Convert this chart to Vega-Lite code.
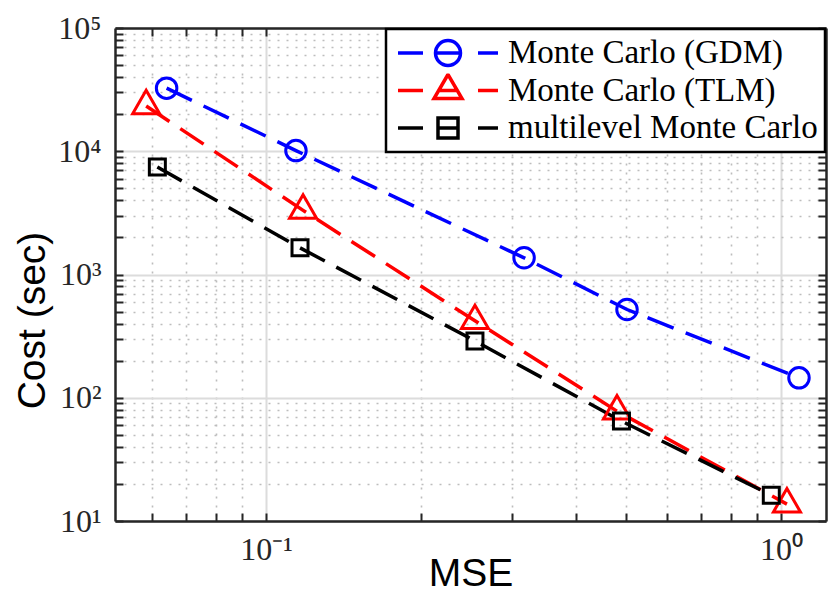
{
  "$schema": "https://vega.github.io/schema/vega-lite/v6.json",
  "width": 711,
  "height": 493,
  "autosize": {"type": "none"},
  "padding": {"left": 115, "top": 28, "right": 2, "bottom": 69},
  "background": "white",
  "config": {
    "view": {"stroke": null},
    "axis": {
      "domainColor": "#262626",
      "domainWidth": 2.5,
      "tickColor": "#262626",
      "tickWidth": 2,
      "tickSize": -8,
      "labelFont": "Liberation Serif",
      "labelFontSize": 32,
      "labelColor": "#262626",
      "titleFont": "Liberation Sans",
      "titleFontSize": 39,
      "titleFontWeight": "normal",
      "titleColor": "#000000",
      "labelOverlap": false,
      "labelFlush": false,
      "labelBound": false
    }
  },
  "data": {
    "values": [
      {"series": "Monte Carlo (GDM)", "mse": 0.0641, "cost": 32500},
      {"series": "Monte Carlo (GDM)", "mse": 0.1143, "cost": 10120},
      {"series": "Monte Carlo (GDM)", "mse": 0.317, "cost": 1366},
      {"series": "Monte Carlo (GDM)", "mse": 0.5023, "cost": 520},
      {"series": "Monte Carlo (GDM)", "mse": 1.0838, "cost": 145},
      {"series": "Monte Carlo (TLM)", "mse": 0.0585, "cost": 23320},
      {"series": "Monte Carlo (TLM)", "mse": 0.118, "cost": 3315},
      {"series": "Monte Carlo (TLM)", "mse": 0.2545, "cost": 421},
      {"series": "Monte Carlo (TLM)", "mse": 0.4803, "cost": 77.8},
      {"series": "Monte Carlo (TLM)", "mse": 1.027, "cost": 13.7},
      {"series": "multilevel Monte Carlo", "mse": 0.0615, "cost": 7437},
      {"series": "multilevel Monte Carlo", "mse": 0.1164, "cost": 1646},
      {"series": "multilevel Monte Carlo", "mse": 0.2545, "cost": 289},
      {"series": "multilevel Monte Carlo", "mse": 0.49, "cost": 64.7},
      {"series": "multilevel Monte Carlo", "mse": 0.9576, "cost": 16.2}
    ]
  },
  "resolve": {"axis": {"x": "independent", "y": "independent"}},
  "layer": [
    {
      "mark": {"type": "line", "strokeWidth": 3.5, "strokeDash": [28, 13]},
      "encoding": {
        "x": {
          "field": "mse", "type": "quantitative",
          "scale": {"type": "log", "domain": [0.05089, 1.223], "nice": false},
          "axis": {
            "orient": "bottom",
            "title": "MSE",
            "titleBaseline": "alphabetic",
            "titleY": 64,
            "values": [0.06, 0.07, 0.08, 0.09, 0.1, 0.2, 0.3, 0.4, 0.5, 0.6, 0.7, 0.8, 0.9, 1],
            "labelExpr": "datum.value == 0.1 ? '10⁻¹' : datum.value == 1 ? '10⁰' : ''",
            "labelPadding": 21,
            "grid": true,
            "gridColor": {"condition": {"test": "abs(log(datum.value)/LN10 - round(log(datum.value)/LN10)) < 0.001", "value": "#dcdcdc"}, "value": "#bdbdbd"},
            "gridDash": {"condition": {"test": "abs(log(datum.value)/LN10 - round(log(datum.value)/LN10)) < 0.001", "value": []}, "value": [2, 7]},
            "gridWidth": {"condition": {"test": "abs(log(datum.value)/LN10 - round(log(datum.value)/LN10)) < 0.001", "value": 2}, "value": 1.6}
          }
        },
        "y": {
          "field": "cost", "type": "quantitative",
          "scale": {"type": "log", "domain": [10, 100000], "nice": false},
          "axis": {
            "orient": "left",
            "title": "Cost (sec)",
            "titleBaseline": "alphabetic",
            "titleAngle": -90,
            "titleX": -71,
            "titleY": 292,
            "values": [10, 20, 30, 40, 50, 60, 70, 80, 90, 100, 200, 300, 400, 500, 600, 700, 800, 900, 1000, 2000, 3000, 4000, 5000, 6000, 7000, 8000, 9000, 10000, 20000, 30000, 40000, 50000, 60000, 70000, 80000, 90000, 100000],
            "labelExpr": "datum.value == 10 ? '10¹' : datum.value == 100 ? '10²' : datum.value == 1000 ? '10³' : datum.value == 10000 ? '10⁴' : datum.value == 100000 ? '10⁵' : ''",
            "labelPadding": 22,
            "grid": true,
            "gridColor": {"condition": {"test": "abs(log(datum.value)/LN10 - round(log(datum.value)/LN10)) < 0.001", "value": "#dcdcdc"}, "value": "#bdbdbd"},
            "gridDash": {"condition": {"test": "abs(log(datum.value)/LN10 - round(log(datum.value)/LN10)) < 0.001", "value": []}, "value": [2, 7]},
            "gridWidth": {"condition": {"test": "abs(log(datum.value)/LN10 - round(log(datum.value)/LN10)) < 0.001", "value": 2}, "value": 1.6}
          }
        },
        "color": {
          "field": "series", "type": "nominal",
          "scale": {"domain": ["Monte Carlo (GDM)", "Monte Carlo (TLM)", "multilevel Monte Carlo"], "range": ["#0000ff", "#ff0000", "#000000"]},
          "legend": {
            "title": null,
            "orient": "top-right",
            "offset": 1,
            "fillColor": "white",
            "strokeColor": "#000000",
            "padding": 7,
            "symbolSize": 900,
            "symbolOffset": 38,
            "labelOffset": 43,
            "labelLimit": 600,
            "labelFont": "Liberation Serif",
            "labelFontSize": 33,
            "labelColor": "#000000",
            "rowPadding": 3.5,
            "clipHeight": 34,
            "symbolStrokeWidth": 3.5,
            "encode": {
              "legend": {"update": {"strokeWidth": {"value": 2.5}}},
              "symbols": {
                "update": {
                  "shape": {"signal": "datum.value === 'Monte Carlo (GDM)' ? 'M-3.333,0L-1.667,0M-0.833,0L0.833,0M2,0L3.333,0M0.833,0C0.833,0.46,0.46,0.833,0,0.833C-0.46,0.833,-0.833,0.46,-0.833,0C-0.833,-0.46,-0.46,-0.833,0,-0.833C0.46,-0.833,0.833,-0.46,0.833,0Z' : datum.value === 'Monte Carlo (TLM)' ? 'M-3.333,0L-1.667,0M-0.667,0L0.667,0M2,0L3.333,0M0,-1.067L-0.933,0.533L0.933,0.533Z' : 'M-3.333,0L-1.667,0M-0.667,0L0.667,0M2,0L3.333,0M-0.667,-0.667L0.667,-0.667L0.667,0.667L-0.667,0.667Z'"},
                  "stroke": {"scale": "color", "field": "value"},
                  "fill": {"value": "transparent"},
                  "strokeDash": {"value": []},
                  "opacity": {"value": 1}
                }
              }
            }
          }
        }
      }
    },
    {
      "transform": [{"filter": "datum.series === 'Monte Carlo (GDM)'"}],
      "mark": {"type": "point", "shape": "circle", "size": 420, "filled": false, "strokeWidth": 3, "color": "#0000ff", "opacity": 1},
      "encoding": {
        "x": {
          "field": "mse", "type": "quantitative",
          "axis": {"orient": "top", "title": null, "labels": false, "grid": false,
            "values": [0.06, 0.07, 0.08, 0.09, 0.1, 0.2, 0.3, 0.4, 0.5, 0.6, 0.7, 0.8, 0.9, 1]}
        },
        "y": {
          "field": "cost", "type": "quantitative",
          "axis": {"orient": "right", "title": null, "labels": false, "grid": false,
            "values": [10, 20, 30, 40, 50, 60, 70, 80, 90, 100, 200, 300, 400, 500, 600, 700, 800, 900, 1000, 2000, 3000, 4000, 5000, 6000, 7000, 8000, 9000, 10000, 20000, 30000, 40000, 50000, 60000, 70000, 80000, 90000, 100000]}
        }
      }
    },
    {
      "transform": [{"filter": "datum.series === 'Monte Carlo (TLM)'"}],
      "mark": {"type": "point", "shape": "M0,-0.667L-0.577,0.333L0.577,0.333Z", "size": 2190, "filled": false, "strokeWidth": 3, "color": "#ff0000", "opacity": 1},
      "encoding": {
        "x": {"field": "mse", "type": "quantitative", "axis": null},
        "y": {"field": "cost", "type": "quantitative", "axis": null}
      }
    },
    {
      "transform": [{"filter": "datum.series === 'multilevel Monte Carlo'"}],
      "mark": {"type": "point", "shape": "square", "size": 256, "filled": false, "strokeWidth": 3, "color": "#000000", "opacity": 1},
      "encoding": {
        "x": {"field": "mse", "type": "quantitative", "axis": null},
        "y": {"field": "cost", "type": "quantitative", "axis": null}
      }
    }
  ]
}
